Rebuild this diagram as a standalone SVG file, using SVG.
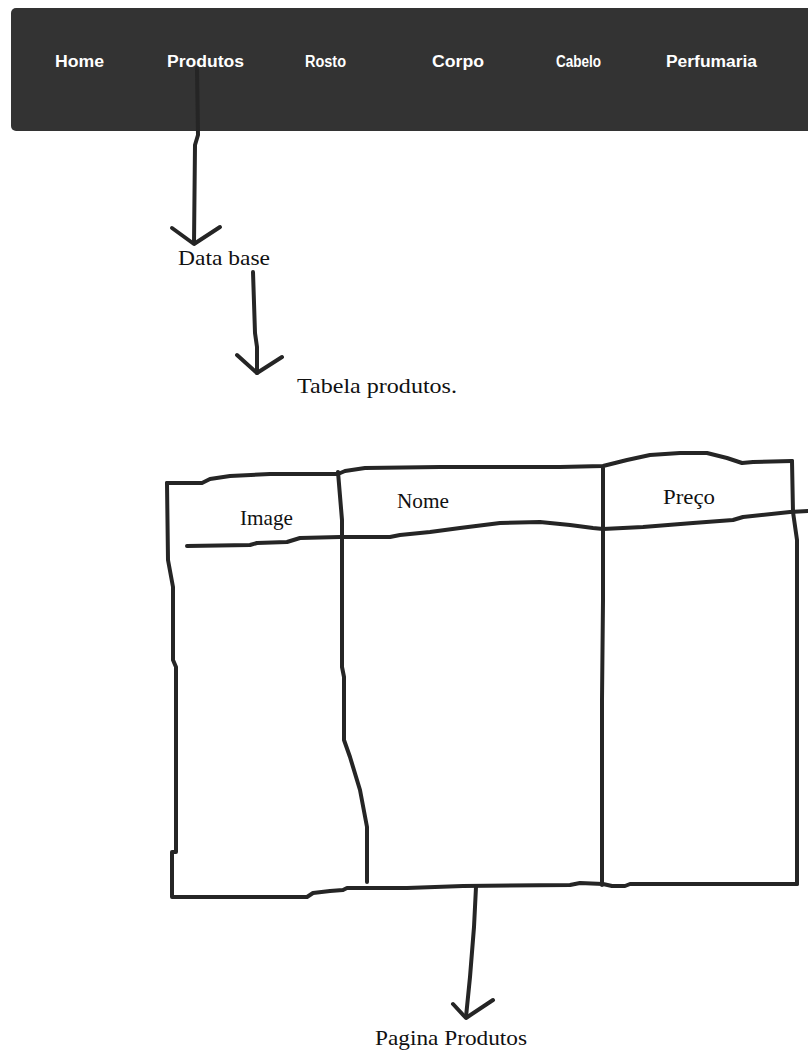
<svg xmlns="http://www.w3.org/2000/svg" width="808" height="1050" viewBox="0 0 808 1050">
<style>
.nav{font-family:"Liberation Sans",Arial,sans-serif;font-weight:bold;font-size:16px;fill:#ffffff}
.hand{font-family:"Liberation Serif","Times New Roman",serif;fill:#111111;font-size:22px}
.ink{fill:none;stroke:#252525;stroke-width:4;stroke-linecap:round;stroke-linejoin:round}
</style>
<rect width="808" height="1050" fill="#ffffff"/>
<g id="navbar">
<rect x="11" y="8" width="810" height="123" rx="5" fill="#333333"/>
<text class="nav" x="55" y="67" textLength="49" lengthAdjust="spacingAndGlyphs">Home</text>
<text class="nav" x="167" y="67" textLength="77" lengthAdjust="spacingAndGlyphs">Produtos</text>
<text class="nav" x="305" y="67" textLength="41" lengthAdjust="spacingAndGlyphs">Rosto</text>
<text class="nav" x="432" y="67" textLength="52" lengthAdjust="spacingAndGlyphs">Corpo</text>
<text class="nav" x="556" y="67" textLength="45" lengthAdjust="spacingAndGlyphs">Cabelo</text>
<text class="nav" x="666" y="67" textLength="91" lengthAdjust="spacingAndGlyphs">Perfumaria</text>
</g>
<g id="data-base">
<text class="hand" x="178" y="265" textLength="92" lengthAdjust="spacingAndGlyphs">Data base</text>
</g>
<g id="tabela-produtos">
<text class="hand" x="297" y="393" textLength="160" lengthAdjust="spacingAndGlyphs">Tabela produtos.</text>
</g>
<g id="table">
<path class="ink" d="M167,483 L202,483 L210,479 L230,476 L270,474 L338,474 L345,471 L365,468 L440,467 L560,467 L603,466 L627,460 L650,455 L680,453 L707,453 L727,458 L742,463 L753,462 L792,461"/>
<path class="ink" d="M167,483 L168,560 L173,587 L173,660 L176,667 L176,852 L172,852 L172,897 L307,897 L313,893 L330,891 L343,890 L347,888 L407,888 L463,886 L570,885 L580,883 L603,884 L612,886 L625,886 L630,884 L797,884"/>
<path class="ink" d="M792,461 L793,512 L797,540 L797,884"/>
<path class="ink" d="M338,472 L342,520 L342,667 L344,677 L344,740 L350,757 L360,790 L367,827 L367,882"/>
<path class="ink" d="M603,468 L603,600 L602,700 L602,885"/>
<path class="ink" d="M187,546 L250,545 L257,543 L287,542 L300,538 L340,537 L390,537 L400,535 L430,532 L460,528 L500,523 L540,522 L570,525 L593,528 L603,529 L643,527 L693,523 L733,520 L743,517 L790,512 L808,511"/>
<text class="hand" x="240" y="525" textLength="53" lengthAdjust="spacingAndGlyphs">Image</text>
<text class="hand" x="397" y="508" textLength="52" lengthAdjust="spacingAndGlyphs">Nome</text>
<text class="hand" x="663" y="504" textLength="52" lengthAdjust="spacingAndGlyphs">Preço</text>
</g>
<g id="pagina-produtos">
<text class="hand" x="375" y="1045" textLength="152" lengthAdjust="spacingAndGlyphs">Pagina Produtos</text>
</g>
<g id="connectors">
<path class="ink" d="M197,68 L198,135 L195,145 L194,243"/>
<path class="ink" d="M172,228 L194,244 L220,227"/>
<path class="ink" d="M253,272 L255,333 L257,347 L257,373"/>
<path class="ink" d="M237,355 L257,373 L282,357"/>
<path class="ink" d="M476,887 L474,927 L470,977 L466,1017"/>
<path class="ink" d="M453,1004 L466,1018 L493,1000"/>
</g>
</svg>
